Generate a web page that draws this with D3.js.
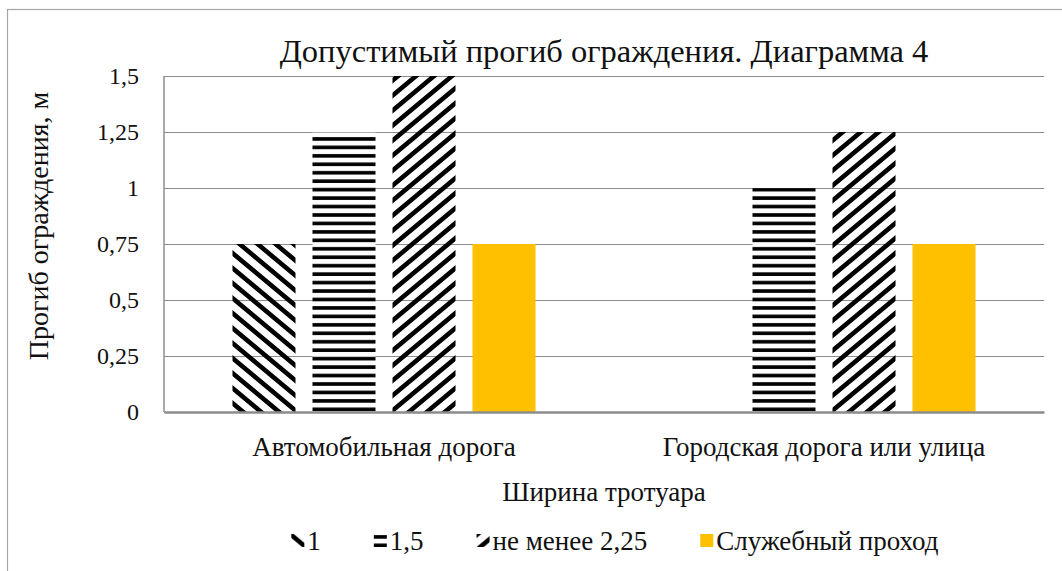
<!DOCTYPE html>
<html>
<head>
<meta charset="utf-8">
<script src="https://cdn.jsdelivr.net/npm/d3@7"></script>
<style>
  body { margin: 0; background: #fff; }
  text { font-family: "Liberation Serif", "DejaVu Serif", serif; fill: #111; }
</style>
</head>
<body>
<svg id="chart" width="1062" height="571"></svg>
<script>
// chart data
const categories = ["Автомобильная дорога", "Городская дорога или улица"];
const seriesNames = ["1", "1,5", "не менее 2,25", "Служебный проход"];
const values1 = [0.75, 0];
const values15 = [1.25, 1];
const values225 = [1.5, 1.25];
const valuesService = [0.75, 0.75];
const yTicks = [0, 0.25, 0.5, 0.75, 1, 1.25, 1.5];

const title = "Допустимый прогиб ограждения. Диаграмма 4";
const yTitle = "Прогиб ограждения, м";
const xTitle = "Ширина тротуара";

const seriesValues = [values1, values15, values225, valuesService];
const fills = ["url(#pDown)", "url(#pHoriz)", "url(#pUp)", "#FFC000"];
const serif = "'Liberation Serif', 'DejaVu Serif', serif";

const svg = d3.select("#chart"),
      margin = {top: 76, right: 18, bottom: 159, left: 164},
      width = +svg.attr("width") - margin.left - margin.right,
      height = +svg.attr("height") - margin.top - margin.bottom;

// hatch patterns
const defs = svg.append("defs");
const pw = 18, ph = 15;
defs.append("pattern")
    .attr("id", "pDown")
    .attr("patternUnits", "userSpaceOnUse")
    .attr("width", pw).attr("height", ph)
    .append("path")
    .attr("d", `M${-pw},${-ph}L${2 * pw},${2 * ph}M0,${-ph}L${2 * pw},${ph}M${-pw},0L${pw},${2 * ph}`)
    .attr("stroke", "#000").attr("stroke-width", 4.6);
defs.append("pattern")
    .attr("id", "pUp")
    .attr("patternUnits", "userSpaceOnUse")
    .attr("width", pw).attr("height", ph)
    .append("path")
    .attr("d", `M${-pw},${2 * ph}L${2 * pw},${-ph}M0,${2 * ph}L${2 * pw},0M${-pw},${ph}L${pw},${-ph}`)
    .attr("stroke", "#000").attr("stroke-width", 4.6);
const ph2 = defs.append("pattern")
    .attr("id", "pHoriz")
    .attr("patternUnits", "userSpaceOnUse")
    .attr("width", 10).attr("height", 8.45);
ph2.append("rect").attr("width", 10).attr("height", 8.45).attr("fill", "#fff");
ph2.append("rect").attr("y", 2).attr("width", 10).attr("height", 3.6).attr("fill", "#000");

// outer chart border (right/bottom run off the picture)
svg.append("rect")
    .attr("x", 7.5).attr("y", 9.5)
    .attr("width", 1100).attr("height", 600)
    .attr("fill", "none").attr("stroke", "#a6a6a6").attr("stroke-width", 1.2);

const g = svg.append("g").attr("transform", "translate(" + margin.left + "," + margin.top + ")");

const x0 = d3.scaleBand().domain(categories).range([0, width]).padding(0);
const x1 = d3.scaleBand().domain(seriesNames).range([0, x0.bandwidth()])
    .paddingInner(0.2125).paddingOuter(0.856);
const y = d3.scaleLinear().domain([0, 1.5]).range([height, 0]);

// gridlines
g.append("g")
    .call(d3.axisLeft(y).tickValues(yTicks).tickSize(-width).tickFormat(""))
    .call(s => s.select(".domain").remove())
    .selectAll("line").attr("stroke", "#8c8c8c").attr("stroke-width", 1);

// y axis line and labels
g.append("line").attr("x1", 0).attr("x2", 0).attr("y1", 0).attr("y2", height)
    .attr("stroke", "#8c8c8c").attr("stroke-width", 1.5);
const yAxis = g.append("g")
    .call(d3.axisLeft(y).tickValues(yTicks).tickSize(0).tickPadding(25)
        .tickFormat(d => String(d).replace(".", ",")));
yAxis.select(".domain").remove();
yAxis.selectAll("text").style("font-family", serif).attr("font-size", 24).attr("fill", "#111");

// bars
const groups = g.selectAll(".cat")
    .data(categories)
    .join("g")
    .attr("class", "cat")
    .attr("transform", d => "translate(" + x0(d) + ",0)");
groups.selectAll("rect")
    .data((c, ci) => seriesNames.map((s, si) => ({s, si, v: seriesValues[si][ci]})))
    .join("rect")
    .attr("x", d => x1(d.s))
    .attr("width", x1.bandwidth())
    .attr("y", d => y(d.v))
    .attr("height", d => height - y(d.v))
    .attr("fill", d => fills[d.si]);

// x axis
const xAxis = g.append("g")
    .attr("transform", "translate(0," + height + ")")
    .call(d3.axisBottom(x0).tickSize(0).tickPadding(0));
xAxis.select(".domain").attr("stroke", "#8c8c8c").attr("stroke-width", 2.5);
xAxis.selectAll("text")
    .style("font-family", serif).attr("font-size", 27).attr("fill", "#111")
    .attr("y", 44).attr("dy", null);

// titles
svg.append("text")
    .attr("x", margin.left + width / 2).attr("y", 62)
    .attr("text-anchor", "middle").attr("font-size", 32.5)
    .text(title);
svg.append("text")
    .attr("x", margin.left + width / 2).attr("y", 501)
    .attr("text-anchor", "middle").attr("font-size", 27)
    .text(xTitle);
svg.append("text")
    .attr("transform", "translate(48," + (margin.top + height / 2 - 18) + ") rotate(-90)")
    .attr("text-anchor", "middle").attr("font-size", 28)
    .text(yTitle);

// legend
const legend = svg.append("g").attr("transform", "translate(0,550)");
const items = legend.selectAll("g").data(seriesNames).join("g");
items.append("rect")
    .attr("y", -16).attr("width", 13).attr("height", 13)
    .attr("fill", (d, i) => fills[i]);
items.append("text")
    .attr("x", 16).attr("font-size", 27)
    .text(d => d);
let lx = 0;
const offsets = [];
items.each(function() {
    offsets.push(lx);
    lx += this.getBBox().width + 53;
});
const legendW = lx - 53;
const lStart = 615 - legendW / 2;
items.attr("transform", (d, i) => "translate(" + (lStart + offsets[i]) + ",0)");
</script>
</body>
</html>
